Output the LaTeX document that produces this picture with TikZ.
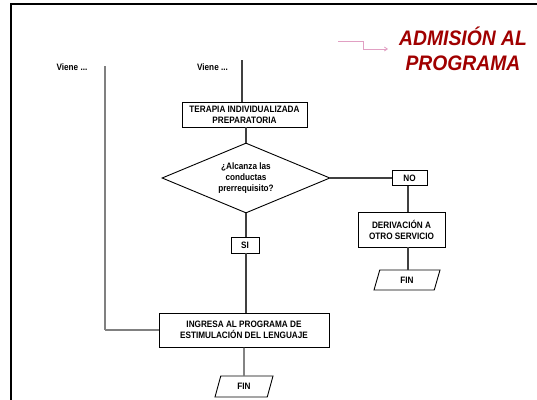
\documentclass[tikz,border=0pt]{standalone}
\usepackage{fontspec}
\setmainfont{Liberation Sans}
\newfontfamily\narrowfont[FakeStretch=0.88]{Liberation Sans}
\newfontfamily\titlefont[FakeStretch=0.92]{Liberation Sans}
\usetikzlibrary{shapes.geometric,arrows.meta}
\definecolor{titlered}{RGB}{160,0,0}
\definecolor{pinkline}{RGB}{225,160,195}
\tikzset{
  lbl/.style={font=\narrowfont\bfseries\fontsize{9.3}{11}\selectfont, align=center, inner sep=0pt},
  procbox/.style={lbl, draw=black, line width=0.9pt, rectangle},
  decbox/.style={lbl, draw=black, line width=0.9pt, diamond, aspect=2.4},
  endbox/.style={lbl, draw=black, line width=0.9pt, trapezium, trapezium left angle=48, trapezium right angle=132, trapezium stretches body},
  conn/.style={draw=black!75, line width=1.1pt},
  sideline/.style={draw=black!50, line width=1.7pt},
}
\begin{document}
\begin{tikzpicture}[x=1pt,y=-1pt]
\useasboundingbox (0,0) rectangle (537,399);
\clip (0,0) rectangle (537,399);
\draw[line width=2pt] (11,4) rectangle (560,420);

% title
\node[font=\titlefont\bfseries\itshape\fontsize{21}{25}\selectfont, text=titlered, align=center, inner sep=0pt] (title) at (463,49) {ADMISIÓN AL\\PROGRAMA};
\coordinate (pa) at (338,41);
\coordinate (pb) at (388,49);
\draw[pinkline, line width=0.8pt, -{Straight Barb[length=3pt,width=4pt]}] (pa) -- (363,41) |- (pb);

% incoming
\node[lbl] (vieneL) at (72,67) {Viene ...};
\node[lbl] (vieneC) at (212.5,67) {Viene ...};
\coordinate (ltop) at (105,66);
\coordinate (lbot) at (105,330);
\coordinate (ctop) at (242,60);

% boxes
\node[procbox, minimum width=125pt, minimum height=25pt] (terapia) at (244.5,114.5) {TERAPIA INDIVIDUALIZADA\\PREPARATORIA};
\node[decbox, minimum width=168pt, minimum height=70pt] (dec) at (246,178) {¿Alcanza las\\conductas\\prerrequisito?};
\node[procbox, minimum width=35pt, minimum height=15pt] (no) at (409.5,178) {NO};
\node[procbox, minimum width=87pt, minimum height=35pt] (deriv) at (401.5,229.5) {DERIVACIÓN A\\OTRO SERVICIO};
\node[endbox, minimum width=66pt, minimum height=20pt] (fin1) at (407,280) {FIN};
\node[procbox, minimum width=28pt, minimum height=16pt] (si) at (245,245) {SI};
\node[procbox, minimum width=170pt, minimum height=34pt] (ingresa) at (244,330) {INGRESA AL PROGRAMA DE\\ESTIMULACIÓN DEL LENGUAJE};
\node[endbox, minimum width=58pt, minimum height=21pt] (fin2) at (244,386.5) {FIN};

% connectors
\draw[sideline] (ltop) -- (lbot);
\draw[sideline] (ltop|-ingresa.west) -- (ingresa.west);
\draw[conn] (ctop) -- (ctop|-terapia.north);
\draw[conn] (dec.north|-terapia.south) -- (dec.north);
\draw[conn] (dec.east) -- (no.west);
\draw[conn] (408,0|-no.south) -- (408,0|-deriv.north);
\draw[conn] (408,0|-deriv.south) -- (408,0|-fin1.north);
\draw[conn] (dec.south) -- (dec.south|-si.north);
\draw[conn] (dec.south|-si.south) -- (dec.south|-ingresa.north);
\draw[conn] (ingresa.south) -- (fin2.north);
\end{tikzpicture}
\end{document}
